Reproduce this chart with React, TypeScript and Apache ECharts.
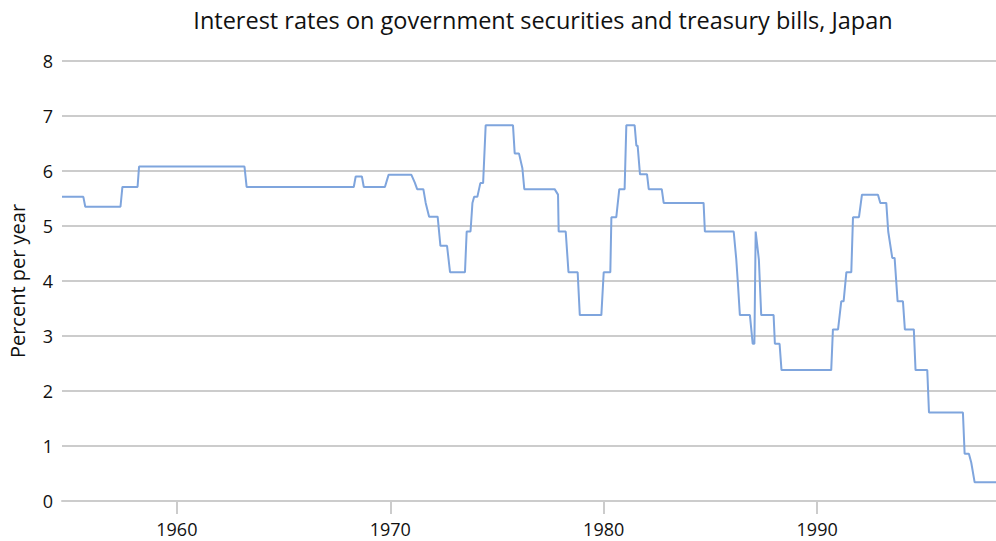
import React, { useEffect, useRef } from "react";
import * as echarts from "echarts";

const TITLE = "Interest rates on government securities and treasury bills, Japan";
const Y_NAME = "Percent per year";
const X_TICKS = [1960, 1970, 1980, 1990];

// Vertices of the monthly series (decimal year)
const YEARS = [
  1954.62, 1955.62, 1955.71, 1957.36, 1957.45, 1958.16, 1958.23, 1963.17, 1963.27, 1968.29,
  1968.38, 1968.67, 1968.76, 1969.75, 1969.92, 1970.99, 1971.15, 1971.26, 1971.55, 1971.66,
  1971.82, 1972.22, 1972.35, 1972.66, 1972.8, 1973.5, 1973.58, 1973.76, 1973.85, 1973.93,
  1974.08, 1974.22, 1974.35, 1974.47, 1975.75, 1975.83, 1976.03, 1976.19, 1976.28, 1977.7,
  1977.86, 1977.89, 1978.22, 1978.35, 1978.78, 1978.88, 1979.89, 1980.0, 1980.31, 1980.36,
  1980.59, 1980.73, 1980.98, 1981.06, 1981.45, 1981.53, 1981.59, 1981.7, 1982.03, 1982.11,
  1982.72, 1982.81, 1984.68, 1984.74, 1986.09, 1986.21, 1986.28, 1986.38, 1986.85, 1986.98,
  1987.06, 1987.12, 1987.27, 1987.38, 1987.96, 1988.02, 1988.24, 1988.33, 1990.66, 1990.74,
  1990.98, 1991.13, 1991.24, 1991.37, 1991.6, 1991.68, 1991.96, 1992.1, 1992.85, 1992.96,
  1993.24, 1993.33, 1993.52, 1993.63, 1993.77, 1994.02, 1994.11, 1994.53, 1994.61, 1995.16,
  1995.24, 1996.83, 1996.91, 1997.11, 1997.22, 1997.38, 1998.38,
];
const RATES = [
  5.53, 5.53, 5.35, 5.35, 5.71, 5.71, 6.08, 6.08, 5.71, 5.71,
  5.9, 5.9, 5.71, 5.71, 5.93, 5.93, 5.79, 5.67, 5.67, 5.42,
  5.17, 5.17, 4.64, 4.64, 4.16, 4.16, 4.9, 4.9, 5.42, 5.53,
  5.53, 5.78, 5.78, 6.83, 6.83, 6.32, 6.32, 6.05, 5.67, 5.67,
  5.57, 4.9, 4.9, 4.16, 4.16, 3.38, 3.38, 4.16, 4.16, 5.16,
  5.16, 5.67, 5.67, 6.83, 6.83, 6.46, 6.46, 5.94, 5.94, 5.67,
  5.67, 5.42, 5.42, 4.9, 4.9, 4.4, 4.0, 3.38, 3.38, 2.86,
  2.86, 4.9, 4.39, 3.38, 3.38, 2.86, 2.86, 2.38, 2.38, 3.12,
  3.12, 3.63, 3.63, 4.16, 4.16, 5.16, 5.16, 5.57, 5.57, 5.42,
  5.42, 4.9, 4.42, 4.42, 3.63, 3.63, 3.12, 3.12, 2.38, 2.38,
  1.61, 1.61, 0.86, 0.86, 0.7, 0.34, 0.34,
];

const FONT = "Open Sans";

export default function App() {
  const ref = useRef<HTMLDivElement>(null);
  useEffect(() => {
    document.body.style.margin = "0";
    if (!ref.current) return;
    const chart = echarts.init(ref.current, null, { renderer: "svg" });
    const data = YEARS.map((y, i) => [y, RATES[i]]);
    chart.setOption({
      animation: false,
      textStyle: { fontFamily: FONT },
      title: {
        text: TITLE,
        left: 538,
        textAlign: "center",
        top: 3,
        textStyle: { fontFamily: FONT, fontSize: 23.5, fontWeight: "normal", color: "#111" },
      },
      grid: {
        left: 62,
        right: 0,
        top: 61,
        bottom: 40,
        containLabel: false,
        outerBoundsMode: "none",
      },
      xAxis: {
        type: "value",
        min: YEARS[0],
        max: YEARS[YEARS.length - 1],
        splitLine: { show: false },
        axisLine: { show: true, lineStyle: { color: "#cccccc", width: 2 } },
        axisTick: {
          show: true,
          customValues: X_TICKS,
          length: 13,
          lineStyle: { color: "#cccccc", width: 2 },
        },
        axisLabel: {
          customValues: X_TICKS,
          fontFamily: FONT,
          fontSize: 18,
          color: "#111",
          margin: 19,
          formatter: (v: number) => String(Math.round(v)),
        },
      },
      yAxis: {
        type: "value",
        min: 0,
        max: 8,
        interval: 1,
        name: Y_NAME,
        nameLocation: "middle",
        nameGap: 35,
        nameTextStyle: { fontFamily: FONT, fontSize: 20, color: "#111" },
        axisLine: { show: false },
        axisTick: { show: false },
        splitLine: { show: true, lineStyle: { color: "#cccccc", width: 2 } },
        axisLabel: { fontFamily: FONT, fontSize: 18, color: "#111", margin: 9 },
      },
      series: [
        {
          type: "line",
          data,
          showSymbol: false,
          symbol: "none",
          lineStyle: { color: "#7fa5dd", width: 2 },
          clip: true,
        },
      ],
    });
    return () => chart.dispose();
  }, []);
  return <div ref={ref} style={{ width: 996, height: 541 }} />;
}
